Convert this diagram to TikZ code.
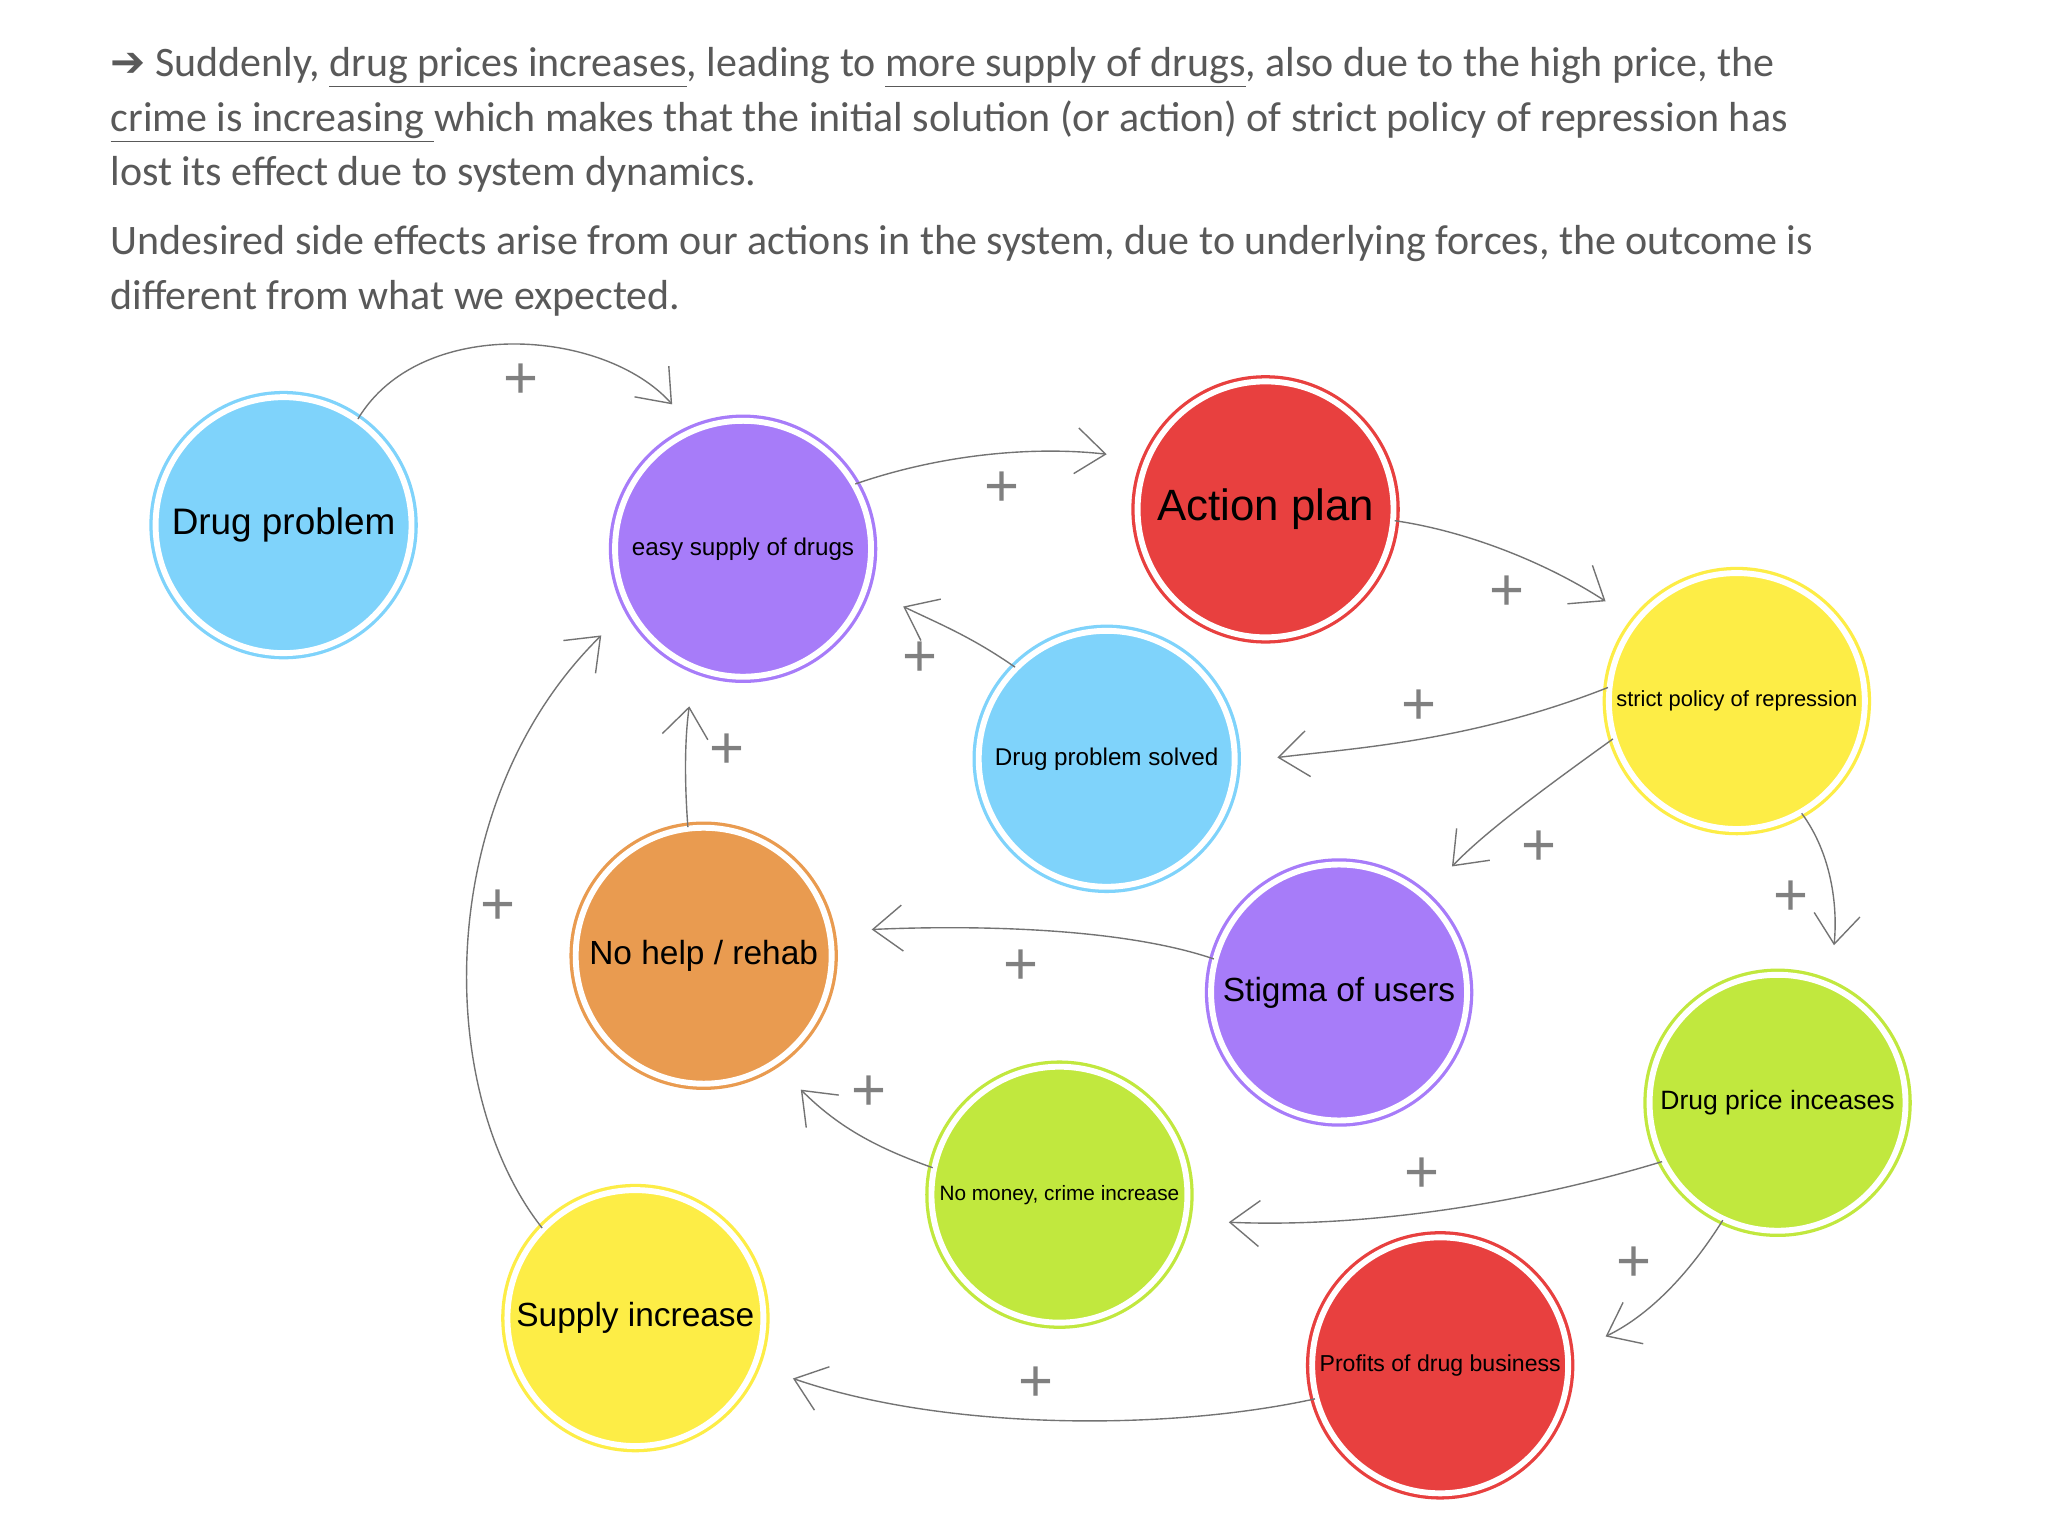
\documentclass[tikz,border=0pt]{standalone}
\usepackage{fontspec}
\setmainfont{Carlito}
\newfontfamily\arial{Liberation Sans}
\newfontfamily\djv{DejaVu Sans}
\usetikzlibrary{arrows.meta}
\definecolor{cblue}{HTML}{7FD3FB}\definecolor{cpurple}{HTML}{A77CF9}
\definecolor{cred}{HTML}{E8403F}\definecolor{cyellow}{HTML}{FDED46}
\definecolor{corange}{HTML}{E99B50}\definecolor{cgreen}{HTML}{C1E83E}
\definecolor{tgray}{HTML}{595959}
\tikzset{
 bubble/.style={circle,minimum size=3.9cm,inner sep=0pt,fill=#1,draw=#1,double=white,double distance=0.09cm,line width=0.05cm,font=\arial,text=black},
 link/.style={draw=gray!90!black,line width=0.6pt,-{Straight Barb[length=0.45cm,width=0.7cm,line width=0.6pt]}},
 plus/.style={text=gray,font=\arial\fontsize{26}{26}\selectfont},
 body/.style={anchor=base west,text=tgray,inner sep=0pt,font=\fontsize{18.2}{22}\selectfont}
}
\begin{document}
\begin{tikzpicture}[x=0.02cm,y=-0.02cm]
\useasboundingbox[fill=white] (0,0) rectangle (1560,1170);
\node[body] (l1) at (84,58) {{\djv\symbol{"2794}} Suddenly, \underline{drug prices increases}, leading to \underline{more supply of drugs}, also due to the high price, the};
\node[body] (l2) at (84,100) {\underline{crime is increasing }which makes that the initial solution (or action) of strict policy of repression has};
\node[body] (l3) at (84,141) {lost its effect due to system dynamics.};
\node[body] (l4) at (84,194) {Undesired side effects arise from our actions in the system, due to underlying forces, the outcome is};
\node[body] (l5) at (84,236) {different from what we expected.};

\node[bubble=cblue,font=\arial\fontsize{16}{18}\selectfont] (dp) at (216,400) {Drug problem};
\node[bubble=cpurple,font=\arial\fontsize{10.5}{12}\selectfont] (es) at (566,418) {easy supply of drugs};
\node[bubble=cred,font=\arial\fontsize{19}{20}\selectfont] (ap) at (964,388) {Action plan};
\node[bubble=cyellow,font=\arial\fontsize{9.5}{11}\selectfont] (sp) at (1323,534) {strict policy of repression};
\node[bubble=cblue,font=\arial\fontsize{10.5}{12}\selectfont] (ds) at (843,578) {Drug problem solved};
\node[bubble=corange,font=\arial\fontsize{14.5}{16}\selectfont] (nh) at (536,728) {No help / rehab};
\node[bubble=cpurple,font=\arial\fontsize{14.5}{16}\selectfont] (st) at (1020,756) {Stigma of users};
\node[bubble=cgreen,font=\arial\fontsize{11.5}{13}\selectfont] (pi) at (1354,840) {Drug price inceases};
\node[bubble=cgreen,font=\arial\fontsize{9}{11}\selectfont] (nm) at (807,910) {No money, crime increase};
\node[bubble=cyellow,font=\arial\fontsize{14.5}{16}\selectfont] (si) at (484,1004) {Supply increase};
\node[bubble=cred,font=\arial\fontsize{10}{12}\selectfont] (pr) at (1097,1040) {Profits of drug business};

\coordinate (e1) at (512,308); \coordinate (e2) at (843,346); \coordinate (e3) at (1223,458);
\coordinate (e4) at (973,577); \coordinate (e5) at (1106,660); \coordinate (e6) at (1397,720);
\coordinate (e7) at (688,462); \coordinate (e8) at (525,538); \coordinate (e9) at (664,708);
\coordinate (e10) at (936,931); \coordinate (e11) at (1223,1018); \coordinate (e12) at (610,830);
\coordinate (e13) at (604,1050); \coordinate (e14) at (458,484);

\draw[link] (dp.55) .. controls (320,240) and (460,250) .. (e1);
\draw[link] (es.30) .. controls (720,345) and (790,340) .. (e2);
\draw[link] (ap.-5) .. controls (1120,405) and (1180,430) .. (e3);
\draw[link] (sp.174) .. controls (1120,565) and (1030,570) .. (e4);
\draw[link] (sp.197) .. controls (1170,605) and (1130,635) .. (e5);
\draw[link] (sp.-60) .. controls (1395,650) and (1400,690) .. (e6);
\draw[link] (ds.135) .. controls (740,485) and (715,475) .. (e7);
\draw[link] (nh.97) .. controls (521,590) and (522,560) .. (e8);
\draw[link] (st.165) .. controls (850,705) and (730,705) .. (e9);
\draw[link] (pi.-153) .. controls (1150,920) and (1030,935) .. (e10);
\draw[link] (pi.-115) .. controls (1290,965) and (1260,1000) .. (e11);
\draw[link] (nm.168) .. controls (670,875) and (640,860) .. (e12);
\draw[link] (pr.-165) .. controls (890,1090) and (720,1090) .. (e13);
\draw[link] (si.136) .. controls (330,830) and (330,610) .. (e14);

\node[plus] at (397,290) {+}; \node[plus] at (763,373) {+}; \node[plus] at (1148,452) {+};
\node[plus] at (1081,539) {+}; \node[plus] at (1172,646) {+}; \node[plus] at (1364,684) {+};
\node[plus] at (701,502) {+}; \node[plus] at (554,572) {+}; \node[plus] at (778,737) {+};
\node[plus] at (1083,895) {+}; \node[plus] at (1245,963) {+}; \node[plus] at (662,833) {+};
\node[plus] at (789,1054) {+}; \node[plus] at (379,691) {+};
\end{tikzpicture}
\end{document}
